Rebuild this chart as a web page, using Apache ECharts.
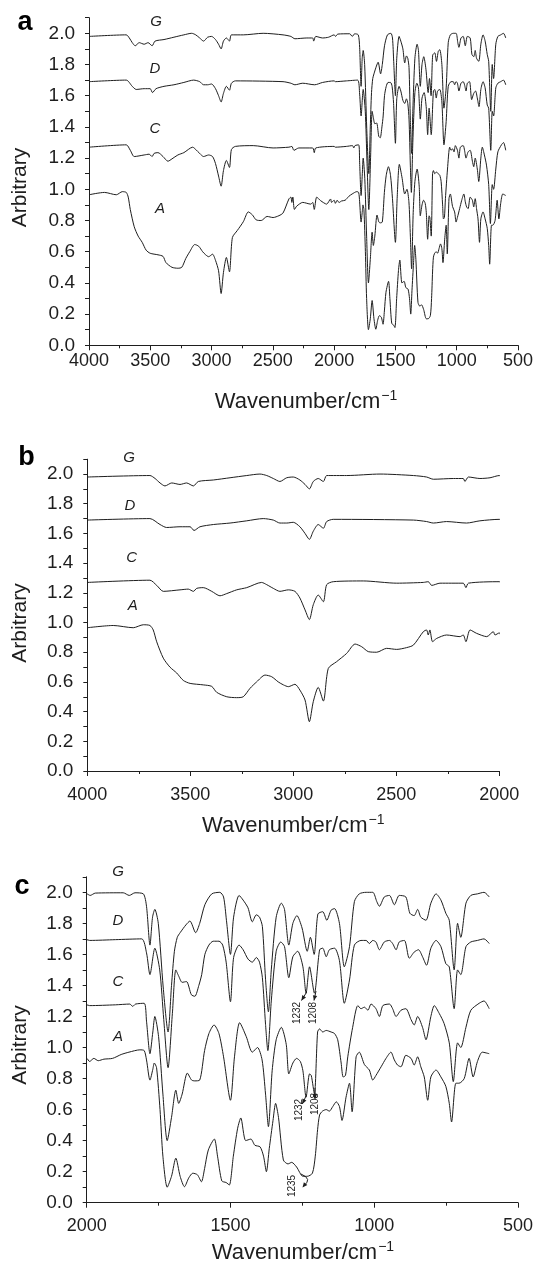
<!DOCTYPE html>
<html>
<head>
<meta charset="utf-8">
<script src="https://cdn.jsdelivr.net/npm/echarts@6/dist/echarts.min.js"></script>
<style>
html,body{margin:0;padding:0;background:#fff;}
#chart{width:536px;height:1270px;}
</style>
</head>
<body>
<div id="chart"></div>
<script>
// ---- data: [wavenumber (cm-1), arbitrary value] ----
const specG = [[4000,1.98],[3696,1.99],[3671,1.97],[3647,1.94],[3623,1.92],[3590,1.94],[3550,1.93],[3518,1.94],[3485,1.92],[3461,1.95],[3388,1.96],[3307,1.975],[3226,1.99],[3162,2.0],[3129,1.99],[3097,1.97],[3065,1.95],[3032,1.975],[3000,1.98],[2968,1.96],[2943,1.93],[2922,1.90],[2903,1.95],[2879,1.97],[2854,1.95],[2838,1.99],[2741,1.99],[2579,2.0],[2417,1.99],[2353,1.98],[2320,1.965],[2223,1.97],[2175,1.97],[2167,1.95],[2150,1.98],[2094,1.97],[2045,1.975],[2000,1.99],
[1988,1.98],[1970,1.995],[1873,1.997],[1852,1.98],[1832,1.997],[1803,1.99],[1792,1.91],[1780,1.66],[1771,1.84],[1763,1.89],[1751,1.80],[1734,1.39],[1717,1.10],[1705,1.40],[1695,1.62],[1685,1.71],[1675,1.74],[1655,1.79],[1641,1.815],[1621,1.74],[1607,1.80],[1589,1.92],[1565,1.99],[1537,2.0],[1524,1.97],[1514,1.82],[1500,1.60],[1489,1.84],[1470,1.98],[1456,1.95],[1439,1.90],[1424,1.81],[1410,1.855],[1399,1.84],[1389,1.78],[1378,1.44],[1368,1.23],[1358,1.50],[1341,1.84],[1323,1.93],[1312,1.89],[1297,1.66],[1283,1.80],[1269,1.85],[1251,1.77],[1233,1.62],[1222,1.71],[1209,1.60],[1196,1.86],[1179,1.875],[1165,1.82],[1150,1.885],[1138,1.895],[1121,1.80],[1104,1.52],[1086,1.65],[1069,1.94],[1052,1.99],[1028,2.0],[1005,2.0],[991,1.94],[982,1.91],[965,1.97],[947,1.98],[930,1.92],[913,1.98],[890,1.97],[876,1.865],[861,1.85],[849,1.89],[838,1.84],[820,1.82],[803,1.93],[785,1.99],[768,1.95],[751,1.865],[739,1.82],[722,1.50],[710,1.80],[699,1.71],[681,1.93],[664,1.98],[641,1.99],[618,2.0],[600,1.97]];

const specD = [[4000,1.69],[3696,1.70],[3647,1.66],[3615,1.64],[3550,1.645],[3501,1.645],[3482,1.62],[3453,1.645],[3388,1.66],[3307,1.67],[3226,1.685],[3146,1.70],[3097,1.69],[3065,1.67],[3032,1.67],[3000,1.675],[2968,1.645],[2943,1.60],[2922,1.56],[2903,1.615],[2879,1.66],[2854,1.635],[2838,1.68],[2806,1.695],[2417,1.69],[2353,1.68],[2320,1.67],[2256,1.68],[2159,1.67],[2094,1.685],[2000,1.695],
[1990,1.69],[1900,1.695],[1809,1.70],[1792,1.61],[1780,1.47],[1763,1.64],[1746,1.50],[1732,1.18],[1717,0.87],[1702,1.22],[1690,1.50],[1680,1.46],[1668,1.42],[1653,1.425],[1636,1.34],[1624,1.33],[1610,1.40],[1600,1.47],[1589,1.60],[1575,1.66],[1560,1.685],[1540,1.685],[1527,1.66],[1515,1.55],[1500,1.295],[1489,1.58],[1470,1.66],[1456,1.63],[1439,1.57],[1424,1.55],[1410,1.58],[1399,1.55],[1389,1.45],[1378,1.15],[1370,0.98],[1358,1.30],[1341,1.62],[1325,1.68],[1312,1.65],[1297,1.45],[1283,1.585],[1266,1.62],[1248,1.52],[1237,1.35],[1225,1.52],[1208,1.35],[1190,1.63],[1179,1.64],[1167,1.585],[1156,1.63],[1138,1.64],[1121,1.56],[1104,1.285],[1086,1.435],[1069,1.66],[1046,1.69],[1028,1.69],[1017,1.67],[1005,1.69],[994,1.68],[982,1.63],[965,1.68],[947,1.69],[936,1.67],[924,1.63],[913,1.68],[895,1.69],[878,1.575],[861,1.615],[846,1.63],[832,1.585],[818,1.53],[803,1.64],[785,1.69],[768,1.65],[751,1.54],[739,1.52],[722,1.25],[710,1.50],[699,1.47],[681,1.65],[664,1.68],[641,1.69],[618,1.70],[600,1.67]];

const specC = [[4000,1.27],[3696,1.285],[3663,1.25],[3631,1.21],[3550,1.22],[3510,1.225],[3485,1.21],[3469,1.23],[3437,1.235],[3396,1.21],[3356,1.18],[3323,1.195],[3275,1.22],[3226,1.235],[3154,1.27],[3129,1.255],[3097,1.23],[3065,1.21],[3024,1.22],[2992,1.21],[2968,1.165],[2943,1.085],[2922,1.02],[2903,1.12],[2879,1.185],[2854,1.14],[2838,1.255],[2806,1.275],[2660,1.28],[2498,1.265],[2369,1.27],[2345,1.275],[2328,1.25],[2288,1.265],[2175,1.265],[2162,1.235],[2150,1.265],[2000,1.275],
[1990,1.27],[1900,1.275],[1850,1.28],[1840,1.265],[1830,1.28],[1800,1.285],[1792,1.17],[1780,0.96],[1770,1.10],[1763,1.20],[1750,1.07],[1735,0.70],[1720,0.40],[1705,0.55],[1690,0.725],[1680,0.64],[1668,0.70],[1650,0.835],[1635,0.79],[1624,0.785],[1607,0.79],[1590,0.98],[1575,1.09],[1557,1.145],[1540,1.09],[1524,0.94],[1500,0.66],[1486,0.94],[1468,1.16],[1445,1.07],[1424,0.97],[1406,1.0],[1390,0.92],[1378,0.70],[1368,0.49],[1355,0.85],[1341,1.05],[1323,1.13],[1306,1.02],[1297,0.83],[1283,0.90],[1270,0.93],[1257,0.91],[1248,0.85],[1237,0.68],[1225,0.83],[1219,0.82],[1208,0.70],[1197,1.10],[1190,1.12],[1179,1.10],[1167,1.11],[1150,1.10],[1138,1.09],[1127,1.05],[1115,0.90],[1108,0.81],[1100,0.82],[1092,0.94],[1075,1.13],[1057,1.27],[1046,1.25],[1034,1.26],[1022,1.24],[1011,1.28],[994,1.25],[982,1.20],[970,1.27],[947,1.28],[936,1.25],[924,1.20],[907,1.24],[890,1.25],[872,1.18],[861,1.145],[849,1.20],[832,1.13],[820,1.05],[803,1.20],[791,1.27],[774,1.22],[757,1.155],[739,1.03],[725,0.78],[710,1.03],[699,1.00],[681,1.13],[664,1.24],[635,1.285],[618,1.30],[600,1.25]];

const specA = [[4000,0.965],[3874,0.98],[3777,0.965],[3728,0.985],[3696,0.98],[3680,0.95],[3663,0.87],[3631,0.76],[3599,0.70],[3566,0.66],[3534,0.61],[3501,0.59],[3437,0.58],[3396,0.57],[3372,0.53],[3323,0.50],[3275,0.494],[3243,0.50],[3210,0.557],[3178,0.60],[3137,0.646],[3105,0.635],[3073,0.60],[3048,0.58],[3024,0.568],[2992,0.584],[2968,0.545],[2943,0.478],[2922,0.332],[2903,0.467],[2879,0.563],[2854,0.471],[2830,0.691],[2790,0.736],[2741,0.792],[2700,0.855],[2668,0.837],[2636,0.804],[2595,0.80],[2547,0.826],[2498,0.819],[2450,0.831],[2417,0.848],[2369,0.938],[2353,0.95],[2345,0.916],[2337,0.95],[2324,0.871],[2304,0.893],[2256,0.916],[2191,0.905],[2175,0.916],[2162,0.871],[2142,0.95],[2110,0.927],[2061,0.905],[2029,0.938],[2021,0.916],[2000,0.93],
[1990,0.91],[1975,0.93],[1960,0.915],[1940,0.925],[1910,0.93],[1880,0.955],[1853,0.97],[1815,0.985],[1800,0.98],[1792,0.92],[1780,0.79],[1770,0.86],[1765,0.90],[1757,0.87],[1745,0.60],[1735,0.30],[1720,0.10],[1705,0.17],[1690,0.287],[1675,0.17],[1660,0.103],[1645,0.16],[1631,0.19],[1615,0.18],[1601,0.135],[1590,0.22],[1577,0.34],[1556,0.41],[1545,0.30],[1530,0.14],[1515,0.13],[1504,0.114],[1490,0.30],[1475,0.48],[1464,0.546],[1447,0.40],[1429,0.41],[1415,0.37],[1397,0.36],[1385,0.30],[1375,0.20],[1365,0.35],[1352,0.53],[1343,0.64],[1333,0.55],[1316,0.275],[1300,0.25],[1287,0.26],[1270,0.23],[1248,0.17],[1233,0.17],[1215,0.19],[1205,0.30],[1197,0.47],[1190,0.565],[1180,0.59],[1167,0.60],[1156,0.59],[1144,0.62],[1132,0.65],[1121,0.62],[1112,0.53],[1098,0.68],[1086,0.77],[1077,0.586],[1063,0.94],[1052,0.97],[1034,0.89],[1017,0.855],[1005,0.79],[994,0.82],[976,0.876],[959,0.93],[942,0.97],[930,0.92],[919,0.887],[907,0.876],[890,0.95],[872,0.93],[861,0.887],[849,0.94],[838,0.876],[826,0.81],[814,0.66],[803,0.81],[785,0.855],[768,0.81],[751,0.75],[739,0.64],[731,0.52],[716,0.77],[705,0.77],[687,0.80],[670,0.93],[656,0.81],[641,0.91],[624,0.97],[600,0.96]];

const seriesNames = ['G','D','C','A'];
const seriesData = [specG, specD, specC, specA];
const xRanges = [[500,4000],[2000,4000],[500,2000]];
const yTickLabels = ['0.0','0.2','0.4','0.6','0.8','1.0','1.2','1.4','1.6','1.8','2.0'];
const xTitle = 'Wavenumber/cm';
const yTitle = 'Arbitrary';
const panelLetters = ['a','b','c'];

// ---- layout ----
const INK = '#1e1e1e';
const FONT = '"Liberation Sans", Arial, Helvetica, sans-serif';
const grids = [
  {left:89, right:13, top:17.7, height:327.6},
  {left:87.3, right:36.7, top:459.2, height:311.8},
  {left:86.7, right:17, top:876.8, height:325.9}
];
const xLabelMargin = [7, 15, 14];

const chart = echarts.init(document.getElementById('chart'), null, {renderer:'canvas'});

const xAxes = grids.map((g,i)=>({
  type:'value', gridIndex:i, min:xRanges[i][0], max:xRanges[i][1], interval:500, inverse:true,
  axisLine:{show:true, onZero:false, lineStyle:{color:INK, width:1}},
  axisTick:{show:true, length:5, lineStyle:{color:INK, width:1}},
  minorTick:{show:true, splitNumber:2, length:3, lineStyle:{color:INK, width:1}},
  splitLine:{show:false}, minorSplitLine:{show:false},
  axisLabel:{color:INK, fontSize:18, fontFamily:FONT, margin:xLabelMargin[i], formatter:(v)=>String(v)}
}));

const yAxes = grids.map((g,i)=>({
  type:'value', gridIndex:i, min:0, max:2.1, interval:0.1,
  axisLine:{show:true, onZero:false, lineStyle:{color:INK, width:1}},
  axisTick:{show:true, length:4, interval:0, lineStyle:{color:INK, width:1}},
  splitLine:{show:false},
  axisLabel:{color:INK, fontSize:19, fontFamily:FONT, margin:14, interval:0,
    formatter:(v)=>{ const k = Math.round(v*10); return (k%2===0 && k<=20) ? yTickLabels[k/2] : ''; }}
}));

const series = [];
for (let p=0; p<3; p++) {
  seriesData.forEach((d,j)=>{
    series.push({
      type:'line', name:seriesNames[j]+p, xAxisIndex:p, yAxisIndex:p, data:d,
      showSymbol:false, symbol:'none', smooth:0.25, clip:true, silent:true,
      lineStyle:{color:INK, width:1}
    });
  });
}

const graphics = [];
const xTitleY = [400.7, 825, 1251.7];
const xTitleX = [306, 293.3, 302.9];
const yTitleY = [187.5, 623, 1045];
for (let p=0;p<3;p++){
  graphics.push({type:'text', x:xTitleX[p], y:xTitleY[p], style:{
    text:'{m|'+xTitle+'}{s|−1}', fill:INK, align:'center', verticalAlign:'middle',
    rich:{ m:{fontSize:22, fontFamily:FONT, fill:INK, verticalAlign:'bottom'}, s:{fontSize:14, fontFamily:FONT, fill:INK, verticalAlign:'top', padding:[0,0,10,1]} }
  }});
  graphics.push({type:'text', x:20.5, y:yTitleY[p], rotation:Math.PI/2, style:{text:yTitle, fill:INK, fontSize:21, fontFamily:FONT, align:'center', verticalAlign:'middle'}});
}
const letterPos = [[25,23],[26.5,458],[22,887]];
panelLetters.forEach((l,i)=>{
  graphics.push({type:'text', x:letterPos[i][0], y:letterPos[i][1], style:{text:l, fill:'#000', fontSize:27, fontWeight:'bold', fontFamily:FONT, align:'center', verticalAlign:'middle'}});
});
const curveLabelPos = [
  [[156,21.7],[155,69],[155,129],[160,209]],
  [[129,458],[130,505.7],[131.7,557.7],[132.7,605.7]],
  [[118,872.3],[118,920.7],[118,981.7],[118,1036.7]]
];
curveLabelPos.forEach(panel=>panel.forEach((pos,j)=>{
  graphics.push({type:'text', x:pos[0], y:pos[1], style:{text:seriesNames[j], fill:INK, fontSize:15, fontStyle:'italic', fontFamily:FONT, align:'center', verticalAlign:'middle'}});
}));

const annos = [
  {t:'1232', x:297.3, y:1013}, {t:'1208', x:313.3, y:1013},
  {t:'1232', x:299.3, y:1110}, {t:'1208', x:315, y:1104},
  {t:'1235', x:292.5, y:1186}
];
annos.forEach(a=>graphics.push({type:'text', x:a.x, y:a.y, rotation:Math.PI/2, style:{text:a.t, fill:INK, fontSize:10, fontFamily:FONT, align:'center', verticalAlign:'middle'}}));

function arrowHead(x2,y2,ang){
  const L=5, W=2.2; const bx = x2 - L*Math.cos(ang), by = y2 - L*Math.sin(ang);
  graphics.push({type:'polygon', shape:{points:[[x2,y2],[bx - W*Math.sin(ang), by + W*Math.cos(ang)],[bx + W*Math.sin(ang), by - W*Math.cos(ang)]]}, style:{fill:INK}});
}
function arrow(x1,y1,x2,y2){
  graphics.push({type:'line', shape:{x1,y1,x2,y2}, style:{stroke:INK, lineWidth:1}});
  arrowHead(x2,y2,Math.atan2(y2-y1, x2-x1));
}
arrow(306.7,992,301.5,1000.5);
arrow(316,991,314,1000.5);
arrow(306,1096,302.3,1104);
arrow(315,1088,315,1099);
graphics.push({type:'bezierCurve', shape:{x1:301,y1:1174,cpx1:313,cpy1:1179,x2:303.5,y2:1186}, style:{stroke:INK, lineWidth:1, fill:null}});
arrowHead(302.5,1187.5,Math.atan2(1.5,-1.2));

chart.setOption({
  animation:false,
  backgroundColor:'#fff',
  grid:grids,
  xAxis:xAxes,
  yAxis:yAxes,
  series,
  graphic:graphics
});
</script>
</body>
</html>
